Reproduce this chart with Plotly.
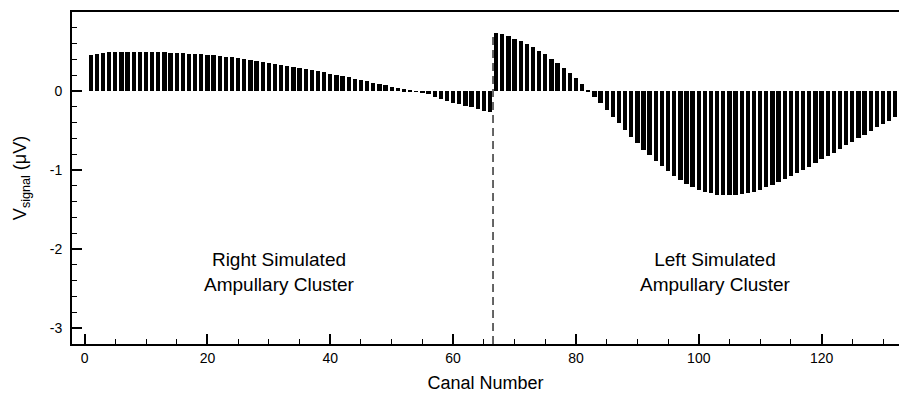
import plotly.graph_objects as go

# ---------------- data ----------------
right_canals = list(range(1, 67))
right_values = [
    0.456, 0.473, 0.481, 0.489, 0.492, 0.493, 0.494, 0.494, 0.494, 0.493,
    0.492, 0.491, 0.489, 0.487, 0.483, 0.479, 0.474, 0.470, 0.465, 0.458,
    0.452, 0.445, 0.437, 0.428, 0.417, 0.405, 0.393, 0.380, 0.364, 0.351,
    0.338, 0.325, 0.313, 0.300, 0.287, 0.275, 0.262, 0.249, 0.237, 0.221,
    0.207, 0.190, 0.176, 0.157, 0.140, 0.123, 0.106, 0.089, 0.072, 0.055,
    0.038, 0.021, 0.008, -0.008, -0.020, -0.040, -0.070, -0.098, -0.123, -0.145,
    -0.162, -0.185, -0.202, -0.226, -0.250, -0.270,
]
left_canals = list(range(67, 133))
left_values = [
    0.738, 0.717, 0.696, 0.662, 0.633, 0.595, 0.553, 0.510, 0.464, 0.410,
    0.354, 0.290, 0.225, 0.160, 0.090, 0.012, -0.072, -0.157, -0.240, -0.325,
    -0.410, -0.490, -0.578, -0.654, -0.740, -0.810, -0.882, -0.950, -1.013, -1.076,
    -1.127, -1.177, -1.220, -1.253, -1.278, -1.295, -1.310, -1.316, -1.320, -1.316,
    -1.308, -1.295, -1.274, -1.250, -1.220, -1.190, -1.155, -1.118, -1.076, -1.042,
    -1.000, -0.958, -0.916, -0.865, -0.823, -0.780, -0.730, -0.687, -0.646, -0.595,
    -0.553, -0.506, -0.460, -0.418, -0.376, -0.333,
]
separator_x = 66.5
x_ticks = [0, 20, 40, 60, 80, 100, 120]
y_ticks = [-3, -2, -1, 0]
y_tick_text = ["-3", "-2", "-1", "0"]
x_range = [-2.05, 132.6]
y_range = [-3.2, 1.0]
labels = ["Right Simulated<br>Ampullary Cluster", "Left Simulated<br>Ampullary Cluster"]
label_x = [31.8, 102.8]
label_y = [-2.29, -2.29]

FONT = "Liberation Sans, Arial, Helvetica, sans-serif"

fig = go.Figure()
fig.add_trace(go.Bar(x=right_canals, y=right_values, width=0.7,
                     marker=dict(color="black", line=dict(width=0)), showlegend=False))
fig.add_trace(go.Bar(x=left_canals, y=left_values, width=0.7,
                     marker=dict(color="black", line=dict(width=0)), showlegend=False))
fig.add_trace(go.Scatter(x=[separator_x, separator_x], y=[y_range[0], max(left_values)],
                         mode="lines", line=dict(color="#333333", width=1.5, dash="8px,5px"),
                         showlegend=False, hoverinfo="skip"))

for t, xx, yy in zip(labels, label_x, label_y):
    fig.add_annotation(x=xx, y=yy, text=t, showarrow=False,
                       font=dict(family=FONT, size=19, color="black"), align="center")

fig.update_layout(
    width=899, height=398,
    margin=dict(l=72, r=0, t=12, b=54),
    paper_bgcolor="white", plot_bgcolor="white",
    font=dict(family=FONT, color="black"),
    bargap=0,
)
fig.update_xaxes(
    range=x_range, tickvals=x_ticks, ticks="inside", ticklen=10, tickwidth=2,
    tickcolor="black", showline=True, linecolor="black", linewidth=2, mirror=True,
    showgrid=False, zeroline=False, tickfont=dict(size=14),
    minor=dict(dtick=5, tick0=0, ticks="inside", ticklen=5, tickwidth=1, tickcolor="black", showgrid=False),
    title=dict(text="Canal Number", font=dict(size=18), standoff=12),
)
fig.update_yaxes(
    range=y_range, tickvals=y_ticks, ticktext=y_tick_text, ticks="inside", ticklen=10, tickwidth=2,
    tickcolor="black", showline=True, linecolor="black", linewidth=2,
    showgrid=False, zeroline=False, tickfont=dict(size=14), ticklabelstandoff=5,
    minor=dict(dtick=0.2, tick0=0, ticks="inside", ticklen=5, tickwidth=1, tickcolor="black", showgrid=False),
    title=dict(text="V<sub>signal</sub> (μV)", font=dict(size=18), standoff=18),
)

fig.write_html("out.html")
